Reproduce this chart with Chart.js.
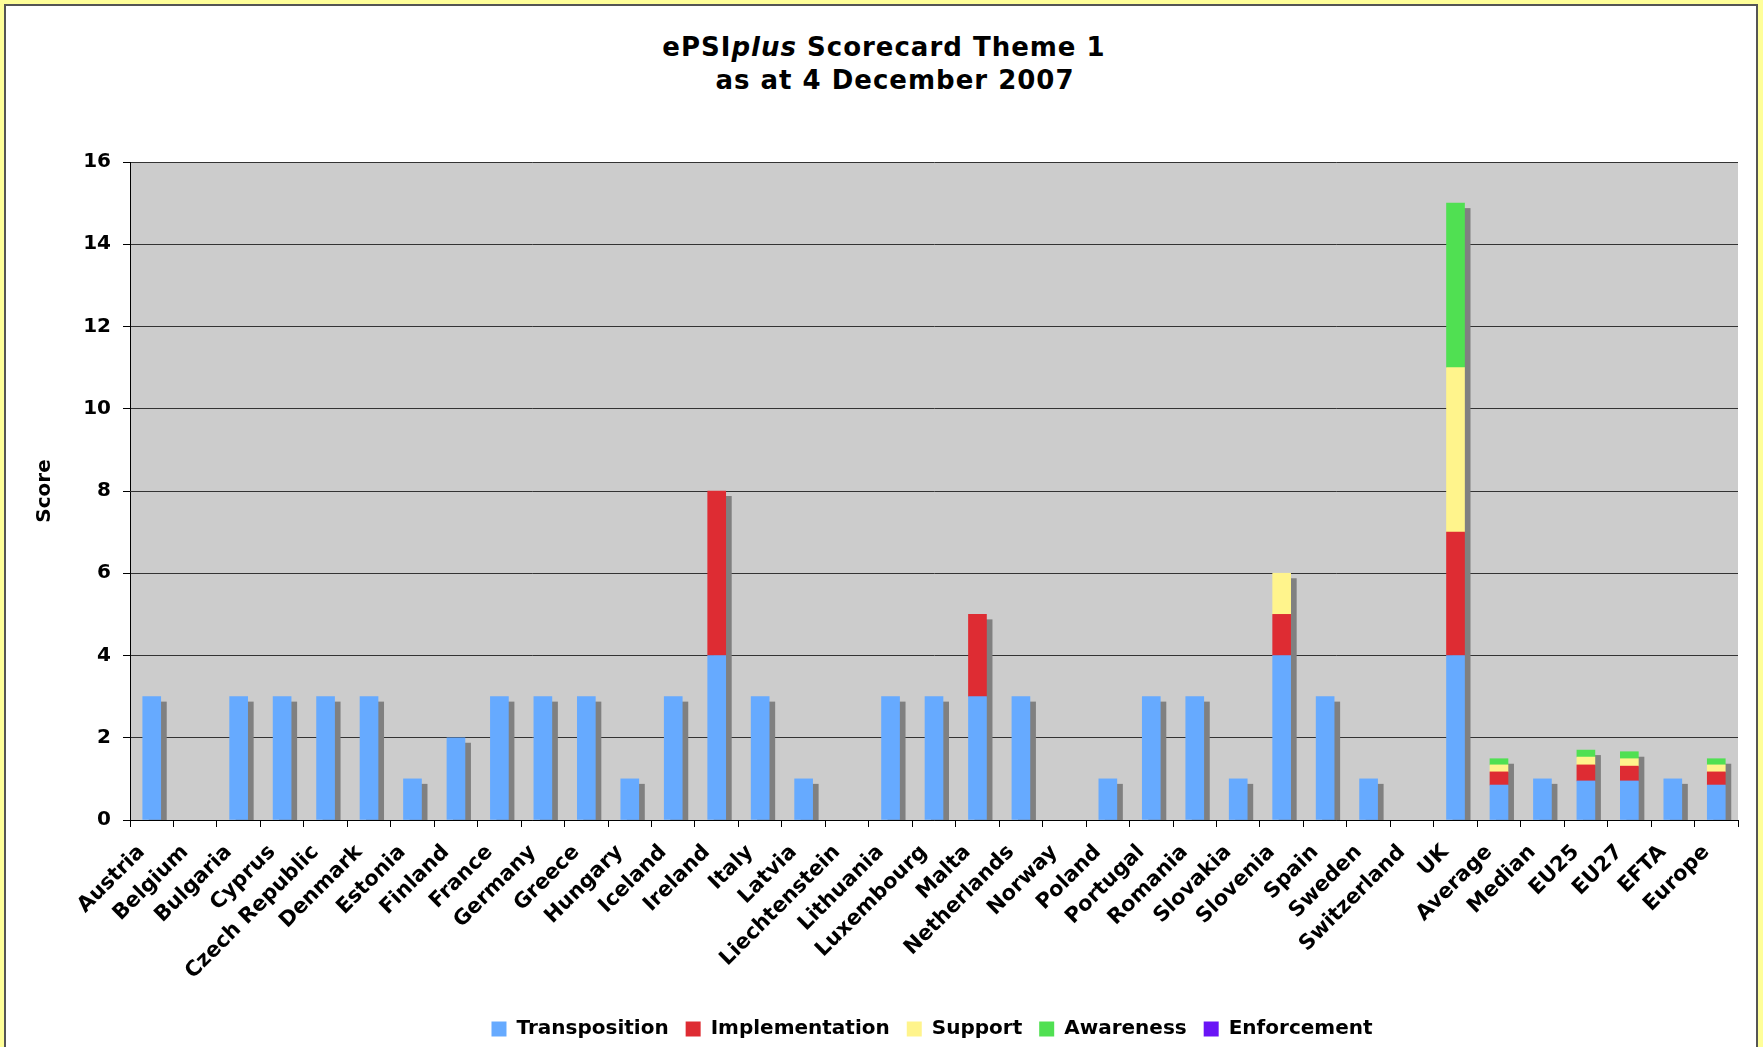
<!DOCTYPE html>
<html>
<head>
<meta charset="utf-8">
<script src="https://cdn.jsdelivr.net/npm/chart.js@4/dist/chart.umd.min.js"></script>
<style>
  html, body { margin: 0; padding: 0; background: #ffff99; overflow: hidden; }
  #frame { position: absolute; left: 4px; top: 4px; width: 1750px; height: 1100px; border: 2px solid #555; background: #fff; }
  #chart { position: absolute; left: 0; top: 0; }
  .title { position: absolute; font-family: 'DejaVu Sans', sans-serif; font-weight: bold; font-size: 26px; letter-spacing: 1px; line-height: 1; text-align: center; color: #000; white-space: nowrap; }
</style>
</head>
<body>
<div id="frame"></div>
<div class="title" style="left:0;width:1768px;top:34px">ePSI<i>plus</i> Scorecard Theme 1</div>
<div class="title" style="left:0;width:1790px;top:67px">as at 4 December 2007</div>
<canvas id="chart" width="1763" height="1047"></canvas>
<script>
const categories = ['Austria', 'Belgium', 'Bulgaria', 'Cyprus', 'Czech Republic', 'Denmark', 'Estonia', 'Finland',
  'France', 'Germany', 'Greece', 'Hungary', 'Iceland', 'Ireland', 'Italy', 'Latvia', 'Liechtenstein', 'Lithuania',
  'Luxembourg', 'Malta', 'Netherlands', 'Norway', 'Poland', 'Portugal', 'Romania', 'Slovakia', 'Slovenia', 'Spain',
  'Sweden', 'Switzerland', 'UK', 'Average', 'Median', 'EU25', 'EU27', 'EFTA', 'Europe'];

const transposition  = [3, 0, 3, 3, 3, 3, 1, 2, 3, 3, 3, 1, 3, 4, 3, 1, 0, 3, 3, 3, 3, 0, 1, 3, 3, 1, 4, 3, 1, 0, 4, 0.85, 1, 0.95, 0.95, 1, 0.85];
const implementation = [0, 0, 0, 0, 0, 0, 0, 0, 0, 0, 0, 0, 0, 4, 0, 0, 0, 0, 0, 2, 0, 0, 0, 0, 0, 0, 1, 0, 0, 0, 3, 0.32, 0, 0.39, 0.36, 0, 0.32];
const support        = [0, 0, 0, 0, 0, 0, 0, 0, 0, 0, 0, 0, 0, 0, 0, 0, 0, 0, 0, 0, 0, 0, 0, 0, 0, 0, 1, 0, 0, 0, 4, 0.17, 0, 0.19, 0.18, 0, 0.17];
const awareness      = [0, 0, 0, 0, 0, 0, 0, 0, 0, 0, 0, 0, 0, 0, 0, 0, 0, 0, 0, 0, 0, 0, 0, 0, 0, 0, 0, 0, 0, 0, 4, 0.15, 0, 0.17, 0.17, 0, 0.15];
const enforcement    = [0, 0, 0, 0, 0, 0, 0, 0, 0, 0, 0, 0, 0, 0, 0, 0, 0, 0, 0, 0, 0, 0, 0, 0, 0, 0, 0, 0, 0, 0, 0, 0, 0, 0, 0, 0, 0];

const yTicks = [0, 2, 4, 6, 8, 10, 12, 14, 16];

Chart.defaults.font.family = "'DejaVu Sans', sans-serif";
Chart.defaults.color = '#000';

// grey plot background
const plotBg = {
  id: 'plotBg',
  beforeDraw(chart) {
    const { ctx, chartArea: a } = chart;
    ctx.save();
    ctx.fillStyle = '#cccccc';
    ctx.fillRect(a.left, a.top, a.right - a.left, a.bottom - a.top);
    ctx.restore();
  }
};

// drop shadow behind each stacked column (right / down)
const barShadow = {
  id: 'barShadow',
  beforeDatasetsDraw(chart) {
    const { ctx, chartArea: a } = chart;
    const base = chart.scales.y.getPixelForValue(0);
    ctx.save();
    ctx.beginPath();
    ctx.rect(a.left, a.top, a.right - a.left, a.bottom - a.top);
    ctx.clip();
    ctx.fillStyle = '#808080';
    categories.forEach((c, i) => {
      let top = base, bar = null;
      chart.data.datasets.forEach((ds, d) => {
        if (ds.data[i] > 0) {
          const el = chart.getDatasetMeta(d).data[i];
          if (el.y < top) top = el.y;
          bar = el;
        }
      });
      if (!bar) return;
      ctx.fillRect(bar.x - bar.width / 2 + 6, top + 5, bar.width, base - top - 5);
    });
    ctx.restore();
  }
};

// legend sits a bit right of centre (and low) in the original
const legendShift = {
  id: 'legendShift',
  afterLayout(chart) {
    const lg = chart.legend;
    if (!lg) return;
    lg.left += 126;
    lg.top += 2;
    lg.bottom += 2;
  }
};

// zero scores are left out so no empty bar is drawn
const ds = (label, data, color) => ({
  label, data: data.map(v => v || null), backgroundColor: color, borderWidth: 0, barThickness: 18
});

new Chart(document.getElementById('chart'), {
  type: 'bar',
  data: {
    labels: categories,
    datasets: [
      ds('Transposition', transposition, '#66aaff'),
      ds('Implementation', implementation, '#de2c33'),
      ds('Support', support, '#fff48c'),
      ds('Awareness', awareness, '#50e052'),
      ds('Enforcement', enforcement, '#6a14f6')
    ]
  },
  options: {
    responsive: false,
    animation: false,
    devicePixelRatio: 1,
    layout: { padding: { top: 162, right: 25, left: 0, bottom: 0 } },
    plugins: {
      legend: {
        position: 'bottom',
        labels: { boxWidth: 15, boxHeight: 15, padding: 17, color: '#000', font: { size: 20, weight: 'bold' } }
      },
      tooltip: { enabled: false },
      title: { display: false }
    },
    scales: {
      x: {
        stacked: true,
        afterFit: s => { s.height = 180; },
        grid: { display: true, drawOnChartArea: false, offset: true, tickLength: 7, tickColor: '#000', color: '#000' },
        border: { color: '#000', width: 1 },
        ticks: { autoSkip: false, minRotation: 45, maxRotation: 45, padding: 13, labelOffset: -10, font: { size: 21, weight: 'bold' } }
      },
      y: {
        stacked: true,
        min: 0,
        max: 16,
        afterFit: s => { s.width = 130; },
        afterBuildTicks: s => { s.ticks = yTicks.map(v => ({ value: v })); },
        grid: { color: '#333', tickLength: 7, tickColor: '#000' },
        border: { color: '#000', width: 1 },
        ticks: { padding: 12, font: { size: 20, weight: 'bold' } },
        title: { display: true, text: 'Score', padding: { top: 33, bottom: 0 }, font: { size: 20, weight: 'bold' } }
      }
    }
  },
  plugins: [plotBg, barShadow, legendShift]
});
</script>
</body>
</html>
